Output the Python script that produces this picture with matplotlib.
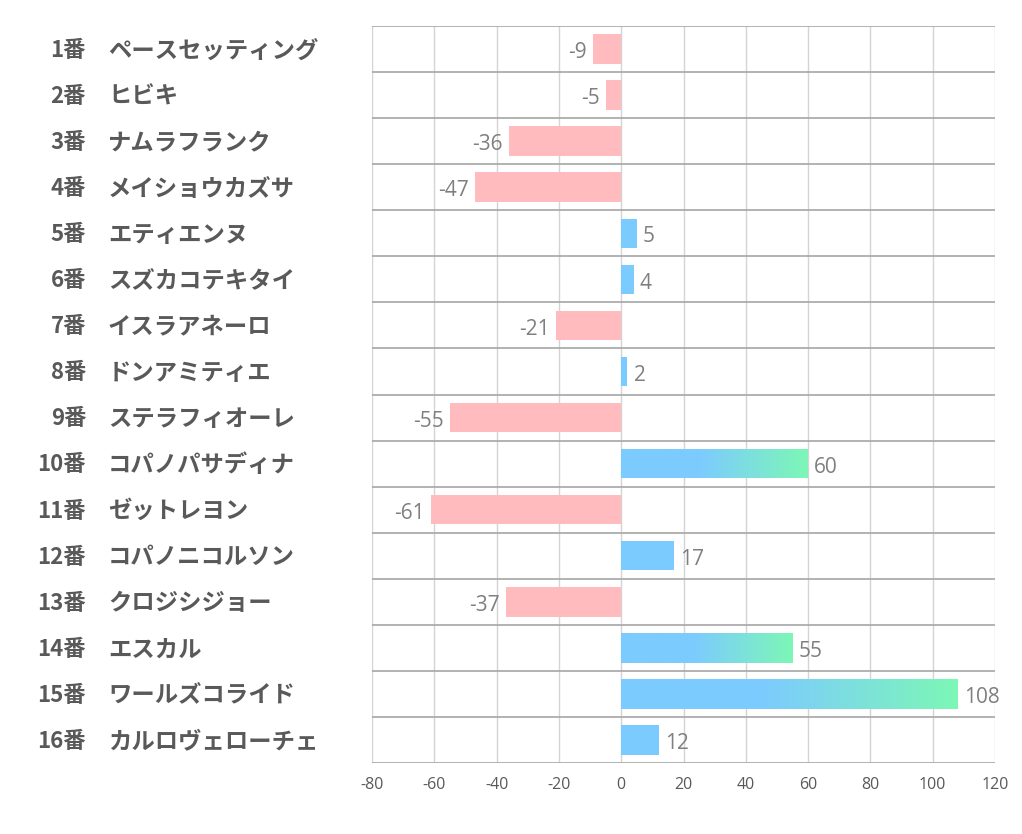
import matplotlib
matplotlib.use("Agg")
import matplotlib.pyplot as plt
import numpy as np
from matplotlib.colors import LinearSegmentedColormap
from matplotlib.transforms import blended_transform_factory
from matplotlib.patches import Rectangle

plt.rcParams['font.family'] = ['Noto Sans CJK JP', 'DejaVu Sans']

numbers = ["1番", "2番", "3番", "4番", "5番", "6番", "7番", "8番",
           "9番", "10番", "11番", "12番", "13番", "14番", "15番", "16番"]
names = ["ペースセッティング", "ヒビキ", "ナムラフランク", "メイショウカズサ",
         "エティエンヌ", "スズカコテキタイ", "イスラアネーロ", "ドンアミティエ",
         "ステラフィオーレ", "コパノパサディナ", "ゼットレヨン", "コパノニコルソン",
         "クロジシジョー", "エスカル", "ワールズコライド", "カルロヴェローチェ"]
values = [-9, -5, -36, -47, 5, 4, -21, 2, -55, 60, -61, 17, -37, 55, 108, 12]
xticks = [-80, -60, -40, -20, 0, 20, 40, 60, 80, 100, 120]

pink = "#FFBBBE"
blue = "#7CCBFF"
green = "#7DF7B6"
grad_threshold = 50

fig = plt.figure(figsize=(10.22, 8.34), dpi=100)
ax = fig.add_axes([372/1022, 1-763/834, (995-372)/1022, (763-26)/834])

n = len(values)
ypos = np.arange(n)
bar_h = 0.64
cmap = LinearSegmentedColormap.from_list("bg", [(0, blue), (0.42, blue), (1, green)])

for y, v in zip(ypos, values):
    if v < 0:
        ax.barh(y, v, height=bar_h, color=pink, zorder=3)
    else:
        ax.barh(y, v, height=bar_h, color=blue, zorder=3)
        if v >= grad_threshold:
            grad = np.linspace(0, 1, 256).reshape(1, -1)
            im = ax.imshow(grad, cmap=cmap, aspect='auto',
                           extent=[0, v, y + bar_h/2, y - bar_h/2], zorder=4,
                           interpolation='bilinear')
            clip = Rectangle((0, y - bar_h/2), v, bar_h, transform=ax.transData)
            im.set_clip_path(clip)
    if v < 0:
        ax.text(v - 2.0, y + 0.08, str(v), ha='right', va='center',
                fontsize=15, color="#7F7F7F", family=['Open Sans', 'DejaVu Sans'], zorder=5)
    else:
        ax.text(v + 2.0, y + 0.08, str(v), ha='left', va='center',
                fontsize=15, color="#7F7F7F", family=['Open Sans', 'DejaVu Sans'], zorder=5)

ax.set_xlim(-80, 120)
ax.set_ylim(n - 0.5, -0.5)
ax.set_xticks(xticks)
ax.set_xticklabels([str(t) for t in xticks], fontsize=11.5, color="#595959",
                   family=['Open Sans', 'DejaVu Sans'])
ax.tick_params(axis='x', length=0, pad=10)
ax.set_yticks([])

for t in xticks:
    ax.axvline(t, color="#D4D4D4", lw=1.0, zorder=1)
for b in np.arange(-0.5, n, 1.0):
    ax.axhline(b, color="#A6A6A6", lw=1.2, zorder=2)
for s in ax.spines.values():
    s.set_visible(False)

tr = blended_transform_factory(fig.transFigure, ax.transData)
for y, num, name in zip(ypos, numbers, names):
    ax.text(86/1022, y + 0.03, num, transform=tr, ha='right', va='center',
            fontsize=16, fontweight='bold', color="#595959")
    ax.text(108/1022, y + 0.03, name, transform=tr, ha='left', va='center',
            fontsize=16.8, fontweight='bold', color="#595959")

fig.savefig("out.png", dpi=100)
